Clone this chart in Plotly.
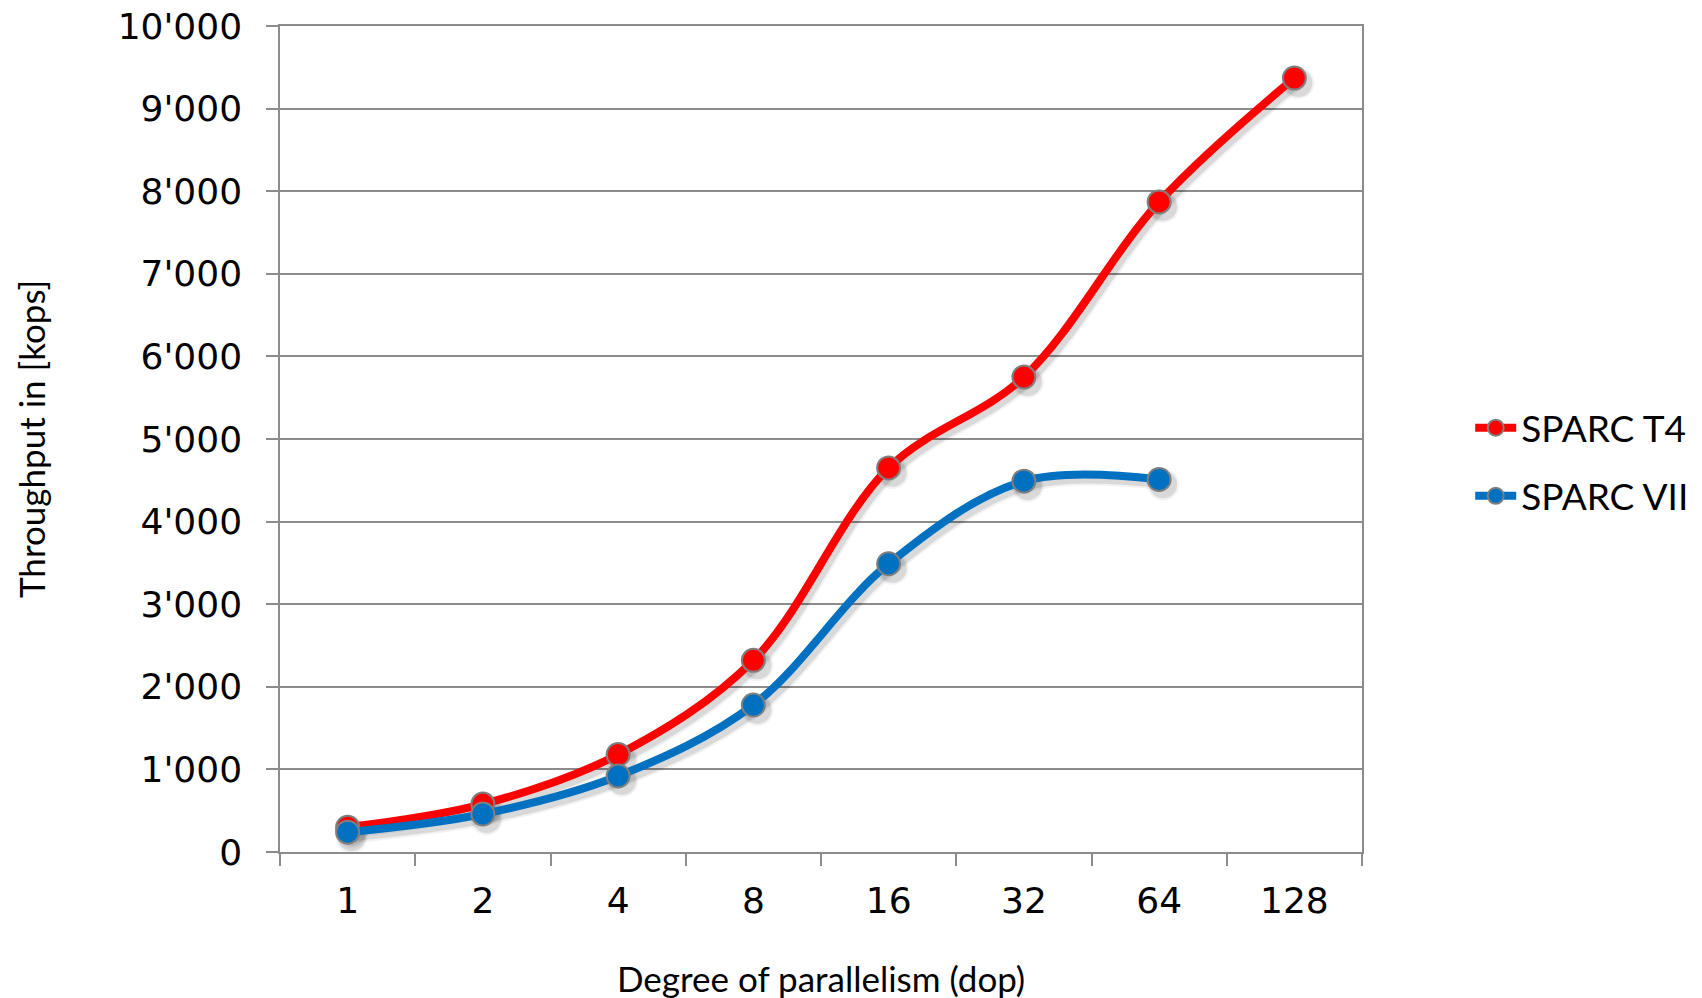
import plotly.graph_objects as go

categories = ["1", "2", "4", "8", "16", "32", "64", "128"]
t4_values = [300, 580, 1180, 2320, 4650, 5750, 7870, 9370]
vii_values = [240, 460, 920, 1780, 3490, 4490, 4510]
series_names = ["SPARC T4", "SPARC VII"]
series_colors = ["#FF0000", "#0070C0"]
x_title = "Degree of parallelism (dop)"
y_title = "Throughput in [kops]"

W, H = 1702, 998
ML, MR, MT, MB = 280, 340, 26, 146
pw = W - ML - MR
ph = H - MT - MB

YMAX = 10000
# shadow offset in pixels
sdx, sdy = 4, 5
cat_px = pw / len(categories)
dx_data = sdx / cat_px
dy_data = sdy * YMAX / ph

fig = go.Figure()

series = [(series_names[0], t4_values, series_colors[0]),
          (series_names[1], vii_values, series_colors[1])]

# anchor trace for the base (grid) subplot, drawn invisibly
fig.add_trace(go.Scatter(x=categories, y=t4_values, mode="markers",
                         marker=dict(opacity=0, size=1), showlegend=False,
                         hoverinfo="skip", xaxis="x", yaxis="y"))

# soft shadows (on shifted invisible axes x2/y2)
for name, vals, col in series:
    for w, a in [(12, 0.05), (8, 0.10)]:
        fig.add_trace(go.Scatter(
            x=categories[:len(vals)], y=vals, mode="lines+markers",
            line=dict(color=f"rgba(0,0,0,{a})", width=w, shape="spline", smoothing=1),
            marker=dict(size=w + 20, color=f"rgba(0,0,0,{a})", line=dict(width=0)),
            xaxis="x2", yaxis="y2", showlegend=False, hoverinfo="skip"))

# main traces on x3/y3
for i, (name, vals, col) in enumerate(series):
    fig.add_trace(go.Scatter(
        x=categories[:len(vals)], y=vals, mode="lines+markers", name=name,
        line=dict(color=col, width=8, shape="spline", smoothing=1),
        marker=dict(size=23, color=col, line=dict(color="#7F7F7F", width=2)),
        xaxis="x3", yaxis="y3", legendgroup=f"g{i}"))

grid_col = "#8C8C8C"
tickfont = dict(family="DejaVu Sans, Verdana, sans-serif", size=36, color="#000000")
title_font = dict(family="Lato, Open Sans, sans-serif", size=35, color="#000000")

fig.update_layout(
    width=W, height=H,
    margin=dict(l=ML, r=MR, t=MT, b=MB, autoexpand=False),
    paper_bgcolor="white", plot_bgcolor="white",
    separators=".'",
    xaxis=dict(type="category", categoryarray=categories, categoryorder="array",
               range=[-0.5, len(categories) - 0.5], automargin=False,
               showgrid=False, tickson="boundaries", ticks="outside", ticklen=12,
               tickwidth=1.5, tickcolor=grid_col, showline=True, linecolor=grid_col,
               linewidth=1.5, mirror=True, tickfont=tickfont, ticklabelstandoff=16),
    yaxis=dict(range=[0, YMAX], dtick=1000, tickformat=",", showgrid=True,
               automargin=False,
               gridcolor=grid_col, gridwidth=1.5, ticks="outside", ticklen=12,
               tickwidth=1.5, tickcolor=grid_col, showline=True, linecolor=grid_col,
               linewidth=1.5, mirror=True, tickfont=tickfont, ticklabelstandoff=17,
               zeroline=False),
    xaxis2=dict(type="category", categoryarray=categories, categoryorder="array",
                overlaying="x", visible=False,
                range=[-0.5 - dx_data, len(categories) - 0.5 - dx_data]),
    yaxis2=dict(overlaying="y", visible=False, range=[dy_data, YMAX + dy_data]),
    xaxis3=dict(type="category", categoryarray=categories, categoryorder="array",
                overlaying="x", visible=False, range=[-0.5, len(categories) - 0.5]),
    yaxis3=dict(overlaying="y", visible=False, range=[0, YMAX]),
    legend=dict(x=1.10, y=0.472, xanchor="left", yanchor="middle",
                font=dict(family="Lato, Open Sans, sans-serif", size=37, color="#000000"),
                tracegroupgap=17, traceorder="grouped", bgcolor="rgba(0,0,0,0)",
                itemwidth=41),
    showlegend=True,
    annotations=[
        dict(text=x_title, xref="paper", yref="paper", x=0.5, y=(852 - 978) / ph,
             xanchor="center", yanchor="middle", showarrow=False, font=title_font),
        dict(text=y_title, xref="paper", yref="paper", x=(31 - ML) / pw, y=0.5,
             xanchor="center", yanchor="middle", showarrow=False, textangle=-90,
             font=title_font),
    ],
)

fig.write_html("out.html")
